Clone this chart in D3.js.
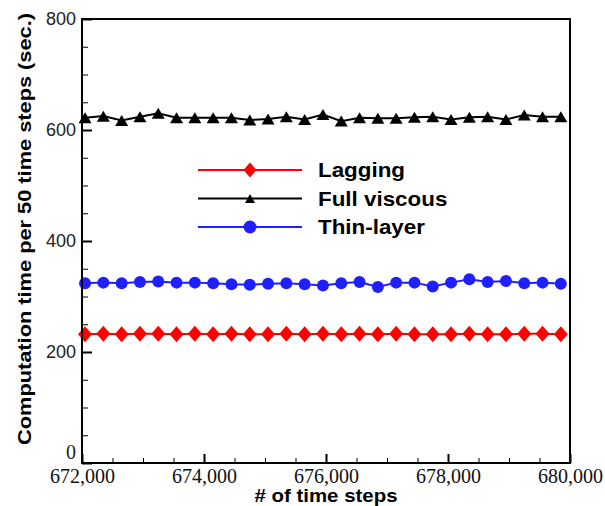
<!DOCTYPE html>
<html>
<head>
<meta charset="utf-8">
<script src="https://cdn.jsdelivr.net/npm/d3@7"></script>
<style>
    body { margin: 0; background: #fff; }
    svg { display: block; }
</style>
</head>
<body>
<div id="chart"></div>
<script>
// Data
const timeSteps = [672050, 672350, 672650, 672950, 673250, 673550, 673850, 674150, 674450,
    674750, 675050, 675350, 675650, 675950, 676250, 676550, 676850, 677150,
    677450, 677750, 678050, 678350, 678650, 678950, 679250, 679550, 679850];
const lagging = [232, 233, 232, 233, 233, 232, 233, 232, 233, 232, 232, 233, 232, 233,
    232, 233, 232, 233, 232, 232, 232, 233, 232, 232, 233, 233, 232];
const fullViscous = [622, 625, 617, 624, 630, 622, 622, 622, 622, 618, 620, 624, 619, 628,
    616, 622, 621, 621, 623, 624, 619, 623, 624, 619, 627, 624, 624];
const thinLayer = [324, 325, 324, 326, 327, 325, 325, 324, 322, 321, 323, 324, 322, 320,
    324, 326, 317, 325, 325, 318, 325, 331, 326, 328, 324, 325, 323];

const xMajor = [672000, 674000, 676000, 678000, 680000];
const yMajor = [0, 200, 400, 600, 800];
const seriesNames = ["Lagging", "Full viscous", "Thin-layer"];

// Layout
const canvas = { w: 605, h: 506 };
const plot = { left: 82, right: 570, top: 19, bottom: 463 };
const sans = "'Liberation Sans', Arial, sans-serif";
const serif = "'Liberation Serif', 'Times New Roman', serif";

const x = d3.scaleLinear().domain([672000, 680000]).range([plot.left, plot.right]);
const y = d3.scaleLinear().domain([0, 800]).range([plot.bottom, plot.top]);

const xMinor = d3.range(672000, 680001, 500).filter(v => !xMajor.includes(v));
const yMinor = d3.range(0, 801, 50).filter(v => !yMajor.includes(v));

// Marker shapes
function diamond(size) {
    const w = size.w / 2, h = size.h / 2;
    return `M0,${-h}L${w},0L0,${h}L${-w},0Z`;
}
function triangle(size) {
    const w = size.w / 2, h = size.h / 2;
    return `M0,${-h}L${w},${h}L${-w},${h}Z`;
}
function circle(size) {
    const r = size.w / 2;
    return `M${r},0A${r},${r},0,1,1,${-r},0A${r},${r},0,1,1,${r},0Z`;
}

const series = [
    { name: seriesNames[0], values: lagging, color: "#ff0000", shape: diamond, size: { w: 14, h: 16 }, legendSize: { w: 13, h: 15 } },
    { name: seriesNames[1], values: fullViscous, color: "#000000", shape: triangle, size: { w: 13, h: 11 }, legendSize: { w: 10, h: 9 } },
    { name: seriesNames[2], values: thinLayer, color: "#1f1fff", shape: circle, size: { w: 12, h: 12 }, legendSize: { w: 13, h: 13 } }
];

const svg = d3.select("#chart")
    .append("svg")
    .attr("width", canvas.w)
    .attr("height", canvas.h);

// Axes
const xAxis = svg.append("g")
    .attr("transform", `translate(0,${plot.bottom})`)
    .call(d3.axisBottom(x).tickValues(xMajor).tickSize(-9).tickPadding(6).tickFormat(d3.format(",")));
xAxis.select(".domain").remove();
xAxis.selectAll("line").attr("stroke-width", 2);
xAxis.selectAll("text")
    .style("font-family", serif)
    .style("font-size", "20px")
    .attr("fill", "#111");

const xAxisMinor = svg.append("g")
    .attr("transform", `translate(0,${plot.bottom})`)
    .call(d3.axisBottom(x).tickValues(xMinor).tickSize(-5).tickFormat(""));
xAxisMinor.select(".domain").remove();
xAxisMinor.selectAll("line").attr("stroke-width", 1);

const yAxis = svg.append("g")
    .attr("transform", `translate(${plot.left},0)`)
    .call(d3.axisLeft(y).tickValues(yMajor).tickSize(-10).tickPadding(6));
yAxis.select(".domain").remove();
yAxis.selectAll("line").attr("stroke-width", 2);
yAxis.selectAll("text")
    .style("font-family", d => d === 0 ? serif : sans)
    .style("font-size", d => d === 0 ? "20px" : "18px")
    .attr("dy", d => d === 0 ? "-0.25em" : "0.32em")
    .attr("fill", "#222");

const yAxisMinor = svg.append("g")
    .attr("transform", `translate(${plot.left},0)`)
    .call(d3.axisLeft(y).tickValues(yMinor).tickSize(-6).tickFormat(""));
yAxisMinor.select(".domain").remove();
yAxisMinor.selectAll("line").attr("stroke-width", 1);

// Series
const line = d3.line()
    .x((d, i) => x(timeSteps[i]))
    .y(d => y(d));

const groups = svg.selectAll("g.series")
    .data(series)
    .enter()
    .append("g")
    .attr("class", "series");

groups.append("path")
    .attr("d", d => line(d.values))
    .attr("fill", "none")
    .attr("stroke", d => d.color)
    .attr("stroke-width", 2);

groups.each(function (s) {
    d3.select(this)
        .selectAll("path.marker")
        .data(s.values)
        .enter()
        .append("path")
        .attr("class", "marker")
        .attr("transform", (d, i) => `translate(${x(timeSteps[i])},${y(d)})`)
        .attr("d", s.shape(s.size))
        .attr("fill", s.color);
});

// Frame
svg.append("rect")
    .attr("x", plot.left)
    .attr("y", plot.top)
    .attr("width", plot.right - plot.left)
    .attr("height", plot.bottom - plot.top)
    .attr("fill", "none")
    .attr("stroke", "#000")
    .attr("stroke-width", 2);

// Legend
const legend = svg.append("g")
    .selectAll("g")
    .data(series)
    .enter()
    .append("g")
    .attr("transform", (d, i) => `translate(198,${170 + i * 28.5})`);

legend.append("line")
    .attr("x1", 0)
    .attr("x2", 104)
    .attr("stroke", d => d.color)
    .attr("stroke-width", 2);

legend.append("path")
    .attr("transform", "translate(52,0)")
    .attr("d", d => d.shape(d.legendSize))
    .attr("fill", d => d.color);

legend.append("text")
    .attr("transform", "translate(120,0) scale(1.12,1)")
    .attr("dy", "0.36em")
    .style("font-family", sans)
    .style("font-weight", "bold")
    .style("font-size", "20px")
    .text(d => d.name);

// Axis titles
svg.append("text")
    .attr("x", 326)
    .attr("y", 502)
    .attr("text-anchor", "middle")
    .attr("textLength", 143)
    .attr("lengthAdjust", "spacingAndGlyphs")
    .style("font-family", sans)
    .style("font-weight", "bold")
    .style("font-size", "18px")
    .text("# of time steps");

svg.append("text")
    .attr("transform", "translate(31,229) rotate(-90)")
    .attr("text-anchor", "middle")
    .attr("textLength", 432)
    .attr("lengthAdjust", "spacingAndGlyphs")
    .style("font-family", sans)
    .style("font-weight", "bold")
    .style("font-size", "19px")
    .text("Computation time per 50 time steps (sec.)");
</script>
</body>
</html>
